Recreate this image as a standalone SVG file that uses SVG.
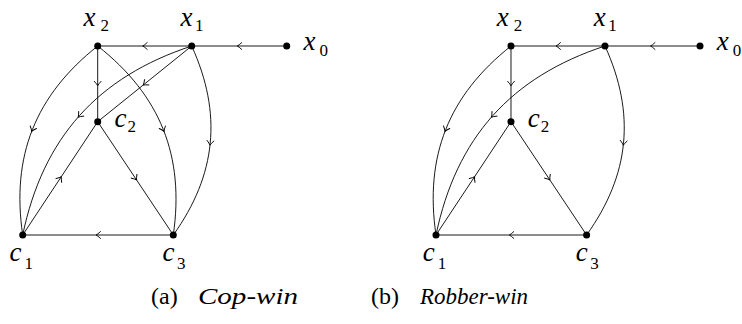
<svg xmlns="http://www.w3.org/2000/svg" xmlns:xlink="http://www.w3.org/1999/xlink" width="742" height="324" viewBox="0 0 742 324">
<style>
.e{fill:none;stroke:#000;stroke-width:0.9}
.a{fill:none;stroke:#000;stroke-width:0.9;stroke-linecap:round}
.d{fill:#000}
text{font-family:'Liberation Serif','DejaVu Serif',serif;fill:#000}
.m{font-style:italic;font-size:27px}
.s{font-size:17px}
.c{font-size:24px}
.ci{font-style:italic;font-size:24px}
</style>
<defs>
<path id="arr" class="a" d="M-4.5,-3.4 Q-1.6,-0.7 0,0 Q-1.6,0.7 -4.5,3.4"/>
</defs>
<rect width="742" height="324" fill="#fff"/>

<!-- Graph (a) -->
<g id="graph-a">
<g id="a-connectors">
<line class="e" x1="286.7" y1="46" x2="191.7" y2="46"/>
<use xlink:href="#arr" transform="translate(237.2,46) rotate(180)"/>
<line class="e" x1="191.7" y1="46" x2="97.7" y2="46"/>
<use xlink:href="#arr" transform="translate(142.7,46) rotate(180)"/>
<line class="e" x1="97.7" y1="46" x2="97.7" y2="121.7"/>
<use xlink:href="#arr" transform="translate(97.7,85.8) rotate(90)"/>
<line class="e" x1="191.7" y1="46" x2="97.7" y2="121.7"/>
<use xlink:href="#arr" transform="translate(143.2,85.1) rotate(141.15)"/>
<line class="e" x1="22.7" y1="235" x2="97.7" y2="121.7"/>
<use xlink:href="#arr" transform="translate(61.3,176.7) rotate(-56.5)"/>
<line class="e" x1="97.7" y1="121.7" x2="173.3" y2="235"/>
<use xlink:href="#arr" transform="translate(136.6,180) rotate(56.3)"/>
<line class="e" x1="173.3" y1="235" x2="22.7" y2="235"/>
<use xlink:href="#arr" transform="translate(96,235) rotate(180)"/>
<path class="e" d="M97.7,46 C35.3,95.4 11.1,156.2 22.7,235"/>
<use xlink:href="#arr" transform="translate(31.7,131.4) rotate(111.64)"/>
<path class="e" d="M97.7,46 C160.3,95.3 184.7,156.1 173.3,235"/>
<use xlink:href="#arr" transform="translate(164,131.4) rotate(68.2)"/>
<path class="e" d="M191.7,46 C222.4,113.6 216.5,174.6 173.3,235"/>
<use xlink:href="#arr" transform="translate(210,145.2) rotate(95.56)"/>
<path class="e" d="M191.7,46 C97.4,77 43,137.8 22.7,235"/>
<use xlink:href="#arr" transform="translate(78.2,117.2) rotate(131.8)"/>
</g>
<g id="a-x2"><circle class="d" cx="97.7" cy="46" r="3.5"/><text class="m" x="83.5" y="26">x</text><text class="s" x="100.5" y="30.7">2</text></g>
<g id="a-x1"><circle class="d" cx="191.7" cy="46" r="3.5"/><text class="m" x="180.5" y="26">x</text><text class="s" x="195" y="30.7">1</text></g>
<g id="a-x0"><circle class="d" cx="286.7" cy="46" r="3.5"/><text class="m" x="303.5" y="50">x</text><text class="s" x="319.5" y="55.5">0</text></g>
<g id="a-c2"><circle class="d" cx="97.7" cy="121.7" r="3.5"/><text class="m" x="114.5" y="127">c</text><text class="s" x="127.5" y="131.5">2</text></g>
<g id="a-c1"><circle class="d" cx="22.7" cy="235" r="3.5"/><text class="m" x="9.5" y="261">c</text><text class="s" x="24.5" y="268.5">1</text></g>
<g id="a-c3"><circle class="d" cx="173.3" cy="235" r="3.5"/><text class="m" x="162.5" y="261">c</text><text class="s" x="177" y="268.5">3</text></g>
</g>

<!-- Graph (b) -->
<g id="graph-b" transform="translate(413.3,0)">
<g id="b-connectors">
<line class="e" x1="286.7" y1="46" x2="191.7" y2="46"/>
<use xlink:href="#arr" transform="translate(237.2,46) rotate(180)"/>
<line class="e" x1="191.7" y1="46" x2="97.7" y2="46"/>
<use xlink:href="#arr" transform="translate(142.7,46) rotate(180)"/>
<line class="e" x1="97.7" y1="46" x2="97.7" y2="121.7"/>
<use xlink:href="#arr" transform="translate(97.7,85.8) rotate(90)"/>
<line class="e" x1="22.7" y1="235" x2="97.7" y2="121.7"/>
<use xlink:href="#arr" transform="translate(61.3,176.7) rotate(-56.5)"/>
<line class="e" x1="97.7" y1="121.7" x2="173.3" y2="235"/>
<use xlink:href="#arr" transform="translate(136.6,180) rotate(56.3)"/>
<line class="e" x1="173.3" y1="235" x2="22.7" y2="235"/>
<use xlink:href="#arr" transform="translate(96,235) rotate(180)"/>
<path class="e" d="M97.7,46 C35.3,95.4 11.1,156.2 22.7,235"/>
<use xlink:href="#arr" transform="translate(31.7,131.4) rotate(111.64)"/>
<path class="e" d="M191.7,46 C222.4,113.6 216.5,174.6 173.3,235"/>
<use xlink:href="#arr" transform="translate(210,145.2) rotate(95.56)"/>
<path class="e" d="M191.7,46 C97.4,77 43,137.8 22.7,235"/>
<use xlink:href="#arr" transform="translate(78.2,117.2) rotate(131.8)"/>
</g>
<g id="b-x2"><circle class="d" cx="97.7" cy="46" r="3.5"/><text class="m" x="83.5" y="26">x</text><text class="s" x="100.5" y="30.7">2</text></g>
<g id="b-x1"><circle class="d" cx="191.7" cy="46" r="3.5"/><text class="m" x="180.5" y="26">x</text><text class="s" x="195" y="30.7">1</text></g>
<g id="b-x0"><circle class="d" cx="286.7" cy="46" r="3.5"/><text class="m" x="303.5" y="50">x</text><text class="s" x="319.5" y="55.5">0</text></g>
<g id="b-c2"><circle class="d" cx="97.7" cy="121.7" r="3.5"/><text class="m" x="114.5" y="127">c</text><text class="s" x="127.5" y="131.5">2</text></g>
<g id="b-c1"><circle class="d" cx="22.7" cy="235" r="3.5"/><text class="m" x="9.5" y="261">c</text><text class="s" x="24.5" y="268.5">1</text></g>
<g id="b-c3"><circle class="d" cx="173.3" cy="235" r="3.5"/><text class="m" x="162.5" y="261">c</text><text class="s" x="177" y="268.5">3</text></g>
</g>

<g id="captions">
<text class="c" x="151" y="304">(a)</text>
<text class="ci" x="198" y="304" textLength="100" lengthAdjust="spacingAndGlyphs">Cop-win</text>
<text class="c" x="371" y="304">(b)</text>
<text class="ci" x="420" y="304" textLength="108" lengthAdjust="spacingAndGlyphs">Robber-win</text>
</g>
</svg>
